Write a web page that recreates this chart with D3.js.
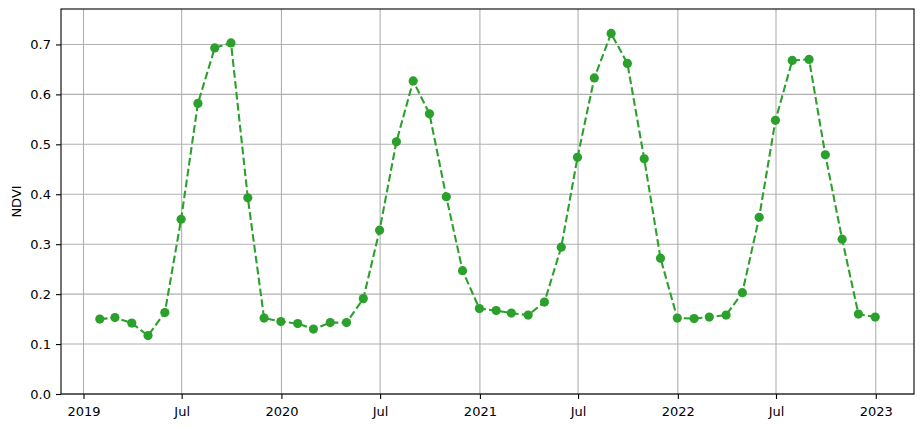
<!DOCTYPE html>
<html>
<head>
<meta charset="utf-8">
<script src="https://cdn.jsdelivr.net/npm/d3@7"></script>
<style>
  body { margin: 0; background: #fff; }
  svg text { font-family: "DejaVu Sans", sans-serif; font-size: 13px; fill: #000; }
</style>
</head>
<body>
<svg width="923" height="428"></svg>
<script>
// monthly NDVI, month-end dates Jan 2019 .. Dec 2022
var months = [];
for (var yr = 2019; yr <= 2022; yr++) {
  for (var m = 1; m <= 12; m++) months.push(new Date(yr, m, 0));
}
var ndvi = [
  0.150, 0.153, 0.142, 0.117, 0.163, 0.350, 0.582, 0.693, 0.703, 0.393, 0.152, 0.145,
  0.141, 0.130, 0.143, 0.143, 0.191, 0.328, 0.505, 0.627, 0.561, 0.395, 0.247, 0.171,
  0.167, 0.162, 0.158, 0.184, 0.294, 0.474, 0.633, 0.722, 0.662, 0.471, 0.272, 0.152,
  0.151, 0.154, 0.158, 0.203, 0.354, 0.548, 0.668, 0.670, 0.479, 0.310, 0.160, 0.154
];
var xTicks = [new Date(2019,0,1), new Date(2019,6,1), new Date(2020,0,1), new Date(2020,6,1),
  new Date(2021,0,1), new Date(2021,6,1), new Date(2022,0,1), new Date(2022,6,1), new Date(2023,0,1)];
var yTicks = [0, 0.1, 0.2, 0.3, 0.4, 0.5, 0.6, 0.7];

var data = months.map(function(d, i) { return { date: d, value: ndvi[i] }; });

var svg = d3.select("svg"),
  margin = {top: 9, right: 9, bottom: 34, left: 61},
  width = svg.attr("width") - margin.left - margin.right,
  height = svg.attr("height") - margin.top - margin.bottom,
  g = svg.append("g").attr("transform", "translate(" + margin.left + "," + margin.top + ")");

// 5% padding on time like matplotlib
var ext = d3.extent(months), pad = (ext[1] - ext[0]) * 0.05;
var x = d3.scaleTime().domain([new Date(+ext[0] - pad), new Date(+ext[1] + pad)]).range([0, width]);
var y = d3.scaleLinear().domain([0, 0.771]).range([height, 0]);

var fmt = function(d) { return d.getMonth() === 6 ? "Jul" : d3.timeFormat("%Y")(d); };

// grid
g.append("g").selectAll("line.gx").data(xTicks).enter().append("line")
  .attr("x1", d => x(d)).attr("x2", d => x(d)).attr("y1", 0).attr("y2", height)
  .attr("stroke", "#b0b0b0").attr("stroke-width", 1.1);
g.append("g").selectAll("line.gy").data(yTicks).enter().append("line")
  .attr("x1", 0).attr("x2", width).attr("y1", d => y(d)).attr("y2", d => y(d))
  .attr("stroke", "#b0b0b0").attr("stroke-width", 1.1);

var xAxis = g.append("g").attr("transform", "translate(0," + height + ")")
  .call(d3.axisBottom(x).tickValues(xTicks).tickFormat(fmt).tickSize(5).tickPadding(5));
var yAxis = g.append("g")
  .call(d3.axisLeft(y).tickValues(yTicks).tickFormat(d3.format(".1f")).tickSize(5).tickPadding(5));
[xAxis, yAxis].forEach(function(a) {
  a.select(".domain").remove();
  a.selectAll("line").attr("stroke", "#000").attr("stroke-width", 1.1);
  a.selectAll("text").style("font-size", "13px").style("font-family", "DejaVu Sans, sans-serif");
});
xAxis.selectAll("text").attr("dy", "0.95em");

var line = d3.line().x(d => x(d.date)).y(d => y(d.value));
g.append("path").datum(data)
  .attr("d", line).attr("fill", "none")
  .attr("stroke", "#2ca02c").attr("stroke-width", 2.1).attr("stroke-dasharray", "7.7,3.3");

g.selectAll("circle").data(data).enter().append("circle")
  .attr("cx", d => x(d.date)).attr("cy", d => y(d.value)).attr("r", 4.6)
  .attr("fill", "#2ca02c");

// frame
g.append("rect").attr("width", width).attr("height", height)
  .attr("fill", "none").attr("stroke", "#000").attr("stroke-width", 1.1);

svg.append("text")
  .attr("transform", "translate(21," + (margin.top + height / 2) + ") rotate(-90)")
  .attr("text-anchor", "middle")
  .text("NDVI");
</script>
</body>
</html>
